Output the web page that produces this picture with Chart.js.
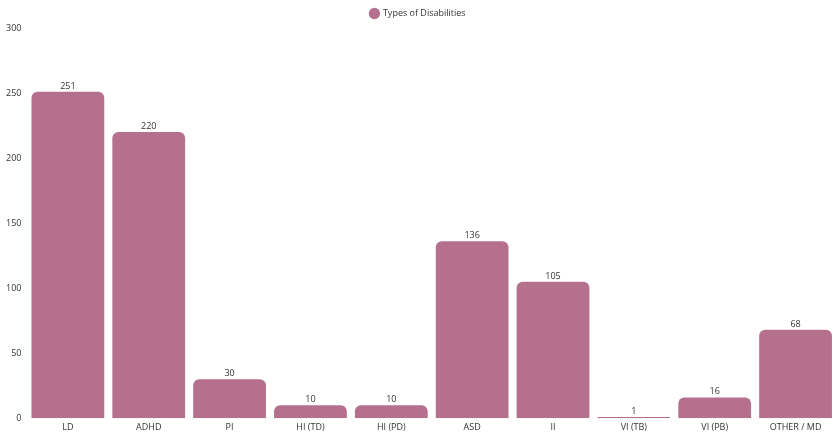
<!DOCTYPE html>
<html>
<head>
<meta charset="utf-8">
<script src="https://cdn.jsdelivr.net/npm/chart.js@4"></script>
<style>
  html, body { margin: 0; padding: 0; background: #fff; }
  #wrap { width: 837px; height: 437px; }
</style>
</head>
<body>
<div id="wrap"><canvas id="disChart"></canvas></div>
<script>
const categories = ["LD", "ADHD", "PI", "HI (TD)", "HI (PD)", "ASD", "II", "VI (TB)", "VI (PB)", "OTHER / MD"];
const counts = [251, 220, 30, 10, 10, 136, 105, 1, 16, 68];
const yTicks = [0, 50, 100, 150, 200, 250, 300];

const BAR_COLOR = "#b5708e";
const FONT = "'Open Sans', 'Noto Sans', sans-serif";

// draws the value above each bar
const valueLabels = {
  id: "valueLabels",
  afterDatasetsDraw(chart) {
    const ctx = chart.ctx;
    const meta = chart.getDatasetMeta(0);
    ctx.save();
    ctx.font = "9px " + FONT;
    ctx.fillStyle = "#333";
    ctx.textAlign = "center";
    ctx.textBaseline = "bottom";
    meta.data.forEach((bar, i) => {
      ctx.fillText(String(counts[i]), bar.x, bar.y - 1);
    });
    ctx.restore();
  },
};

new Chart(document.getElementById("disChart"), {
  type: "bar",
  data: {
    labels: categories,
    datasets: [
      {
        label: "Types of Disabilities",
        data: counts,
        backgroundColor: BAR_COLOR,
        borderRadius: 6,
        borderSkipped: "bottom",
        barPercentage: 0.9,
        categoryPercentage: 1.0,
      },
    ],
  },
  options: {
    responsive: true,
    maintainAspectRatio: false,
    animation: false,
    layout: { padding: { left: 0, right: 1, top: 1, bottom: 0 } },
    scales: {
      x: {
        grid: { display: false, drawTicks: false },
        border: { display: false },
        ticks: { color: "#333", font: { family: FONT, size: 9 }, maxRotation: 0, padding: 4 },
      },
      y: {
        min: 0,
        max: 300,
        afterBuildTicks(axis) {
          axis.ticks = yTicks.map((v) => ({ value: v }));
        },
        grid: { display: false, drawTicks: false },
        border: { display: false },
        ticks: { color: "#333", font: { family: FONT, size: 9 }, padding: 6 },
      },
    },
    plugins: {
      legend: {
        display: true,
        labels: {
          usePointStyle: true,
          pointStyle: "circle",
          boxWidth: 8,
          boxHeight: 8,
          padding: 8,
          color: "#333",
          font: { family: FONT, size: 9 },
        },
      },
      tooltip: { enabled: false },
    },
  },
  plugins: [valueLabels],
});
</script>
</body>
</html>
